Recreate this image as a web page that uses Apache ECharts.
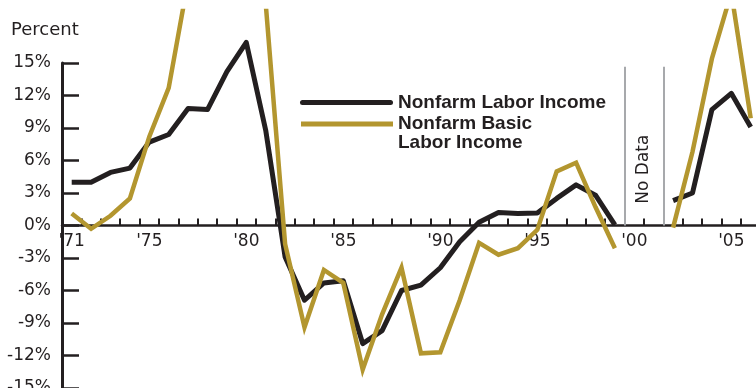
<!DOCTYPE html>
<html>
<head>
<meta charset="utf-8">
<script src="https://cdn.jsdelivr.net/npm/echarts@6/dist/echarts.min.js"></script>
<style>
html,body{margin:0;padding:0;background:#fff;}
#chart{width:756px;height:388px;}
</style>
</head>
<body>
<div id="chart"></div>
<script>
// ---- data ----
const years = ['1971','1972','1973','1974','1975','1976','1977','1978','1979','1980',
  '1981','1982','1983','1984','1985','1986','1987','1988','1989','1990',
  '1991','1992','1993','1994','1995','1996','1997','1998','1999','2000',
  '2001','2002','2003','2004','2005','2006'];
const tickYears = ['1971','1975','1980','1985','1990','1995','2000','2005'];
const tickLabels = ["'71","'75","'80","'85","'90","'95","'00","'05"];
const laborIncome = [4.0,4.0,4.9,5.3,7.7,8.4,10.8,10.7,14.2,16.9,
  8.8,-2.9,-6.9,-5.3,-5.1,-10.9,-9.7,-6.0,-5.5,-3.9,
  -1.5,0.3,1.2,1.1,1.15,2.5,3.75,2.8,0.05,null,
  null,2.3,3.0,10.7,12.2,9.1];
const basicLaborIncome = [1.1,-0.3,0.9,2.5,8.2,12.7,22.6,25.0,27.0,28.0,
  20.5,-1.7,-9.4,-4.1,-5.3,-13.3,-8.2,-3.9,-11.8,-11.7,
  -6.9,-1.6,-2.7,-2.1,-0.4,5.0,5.8,1.7,-2.1,null,
  null,-0.2,6.8,15.4,21.5,9.9];
const noDataBounds = [1999.5, 2001.5];
const noDataText = 'No Data';
const seriesNames = ['Nonfarm Labor Income', 'Nonfarm Basic Labor Income'];

const INK = '#231f20';
const GOLD = '#b3962f';
const GRAY = '#a7a9ac';
const TICKFONT = 'DejaVu Sans';

const Y_MIN = -15, Y_MAX = 19.8, GRID_TOP = 11, GRID_BOTTOM = 0, H = 388;
// distance from grid bottom up to the zero line, so the category axis sits on 0%
const zeroOffset = -((H - GRID_TOP - GRID_BOTTOM) * (0 - Y_MIN) / (Y_MAX - Y_MIN));

function yearLabel(v) {
  const key = (typeof v === 'number') ? years[v] : String(v);
  const i = tickYears.indexOf(key);
  return i >= 0 ? tickLabels[i] : '';
}

const chart = echarts.init(document.getElementById('chart'), null, {renderer: 'canvas'});

const option = {
  animation: false,
  backgroundColor: '#ffffff',
  title: {
    text: 'Percent',
    left: 11, top: 21, padding: 0,
    textStyle: {fontFamily: TICKFONT, fontSize: 18, fontWeight: 'normal', color: INK, lineHeight: 18}
  },
  legend: [
    {
      data: [{name: seriesNames[0], icon: 'path://M2.5,0H90.5A2.5,2.5,0,0,1,90.5,5H2.5A2.5,2.5,0,0,1,2.5,0Z',
              itemStyle: {color: INK, borderWidth: 0}}],
      left: 300, top: 93, padding: 0,
      itemWidth: 93, itemHeight: 5, selectedMode: false,
      textStyle: {fontFamily: 'Liberation Sans', fontWeight: 'bold', fontSize: 19, color: INK, lineHeight: 19}
    },
    {
      data: [{name: seriesNames[1], icon: 'rect', itemStyle: {color: GOLD, borderWidth: 0}}],
      left: 301, top: 95.5, padding: 0,
      itemWidth: 92, itemHeight: 5, selectedMode: false,
      formatter: function () { return ' \nNonfarm Basic\nLabor Income'; },
      textStyle: {fontFamily: 'Liberation Sans', fontWeight: 'bold', fontSize: 19, color: INK, lineHeight: 19}
    }
  ],
  grid: [
    {left: 62, right: -4.4, top: GRID_TOP, bottom: GRID_BOTTOM, containLabel: false, outerBoundsMode: 'none'},
    {left: 62, right: -4.4, top: 63, bottom: GRID_BOTTOM, containLabel: false, outerBoundsMode: 'none'}
  ],
  xAxis: [
    {
      type: 'category', gridIndex: 0, data: years, boundaryGap: true,
      position: 'bottom', offset: zeroOffset,
      axisLine: {show: true, onZero: false, lineStyle: {color: INK, width: 2.5}},
      axisTick: {show: true, inside: true, length: 7, interval: 0, lineStyle: {color: INK, width: 2}},
      axisLabel: {
        show: true, margin: 8, color: INK, fontFamily: TICKFONT, fontSize: 17,
        interval: 0, hideOverlap: false,
        formatter: function (val, idx) { return yearLabel(val) || yearLabel(idx); }
      },
      splitLine: {show: false}
    },
    {type: 'value', gridIndex: 0, min: 1970.5, max: 2006.5, show: false},
    {type: 'value', gridIndex: 1, min: 0, max: 1, show: false}
  ],
  yAxis: [
    {type: 'value', gridIndex: 0, min: Y_MIN, max: Y_MAX, show: false, splitLine: {show: false}},
    {
      type: 'value', gridIndex: 1, min: -15, max: 15, interval: 3,
      axisLine: {show: true, lineStyle: {color: INK, width: 3}},
      axisTick: {show: true, inside: true, length: 17, lineStyle: {color: INK, width: 2.5}},
      axisLabel: {show: true, margin: 11, color: INK, fontFamily: TICKFONT, fontSize: 17,
                  padding: [0, 0, 9, 0], showMinLabel: true, showMaxLabel: true,
                  formatter: '{value}%'},
      splitLine: {show: false}
    }
  ],
  series: [
    {
      name: seriesNames[0], type: 'line', xAxisIndex: 0, yAxisIndex: 0,
      data: laborIncome, showSymbol: false, symbol: 'none', connectNulls: false,
      color: INK, lineStyle: {color: INK, width: 5, join: 'round'}, clip: true, z: 3
    },
    {
      name: seriesNames[1], type: 'line', xAxisIndex: 0, yAxisIndex: 0,
      data: basicLaborIncome, showSymbol: false, symbol: 'none', connectNulls: false,
      color: GOLD, lineStyle: {color: GOLD, width: 4.5, join: 'miter'}, clip: true, z: 4
    },
    {
      name: 'noData', type: 'line', xAxisIndex: 1, yAxisIndex: 0, data: [], silent: true,
      markLine: {
        silent: true, symbol: 'none', animation: false,
        label: {show: false},
        lineStyle: {color: GRAY, width: 2, type: 'solid'},
        data: noDataBounds.map(function (b) { return [{coord: [b, 0]}, {coord: [b, 14.66]}]; })
      }
    }
  ]
};
chart.setOption(option);

// "No Data" label positioned through the chart's own scale
const p = chart.convertToPixel({xAxisIndex: 1, yAxisIndex: 0}, [(noDataBounds[0] + noDataBounds[1]) / 2, 5.2]);
chart.setOption({
  graphic: [{
    type: 'text', x: p[0], y: p[1], rotation: Math.PI / 2, silent: true,
    style: {text: noDataText, fontFamily: TICKFONT, fontSize: 17, fill: INK, align: 'center', verticalAlign: 'middle'}
  }]
});
</script>
</body>
</html>
